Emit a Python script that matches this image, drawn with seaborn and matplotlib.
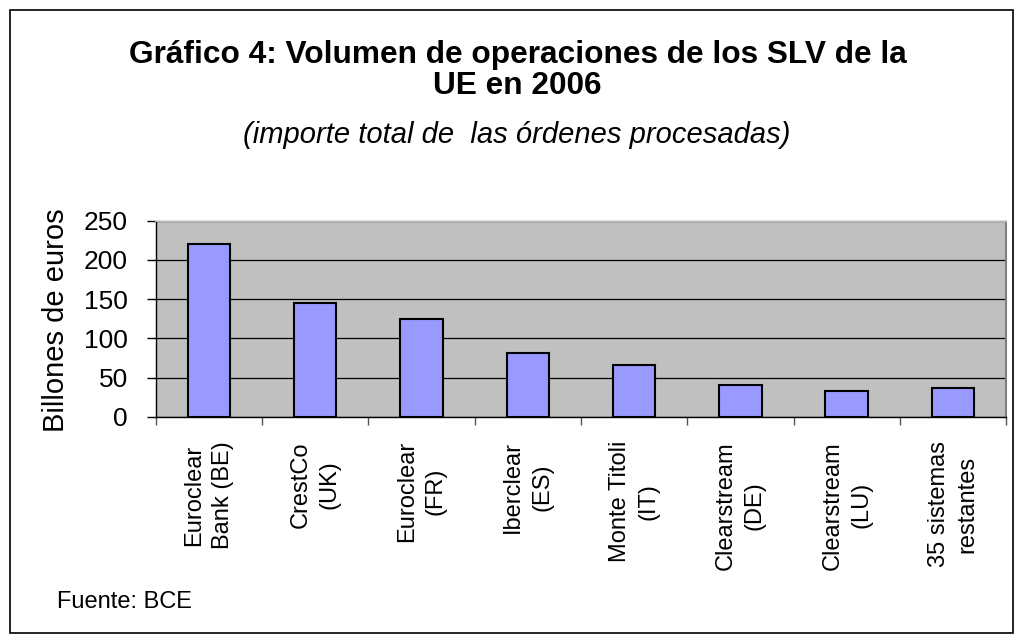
import matplotlib
matplotlib.use('Agg')
import matplotlib.pyplot as plt
import seaborn as sns
import pandas as pd
from matplotlib.patches import Rectangle

# datos (billones de euros)
categorias = ['Euroclear\nBank (BE)', 'CrestCo\n(UK)', 'Euroclear\n(FR)', 'Iberclear\n(ES)',
              'Monte Titoli\n(IT)', 'Clearstream\n(DE)', 'Clearstream\n(LU)', '35 sistemas\nrestantes']
volumen = [220, 145, 125, 81, 66, 41, 33, 36]
y_ticks = [0, 50, 100, 150, 200, 250]

df = pd.DataFrame({'SLV': categorias, 'Volumen': volumen})

sns.set_theme(style='white')
plt.rcParams['font.family'] = ['Liberation Sans', 'DejaVu Sans']
plt.rcParams['text.color'] = 'black'
plt.rcParams['axes.labelcolor'] = 'black'
plt.rcParams['xtick.color'] = 'black'
plt.rcParams['ytick.color'] = 'black'

fig = plt.figure(figsize=(10.14, 6.36), dpi=100)
ax = fig.add_axes([0.1536, 0.3448, 0.8386, 0.3082])

sns.barplot(data=df, x='SLV', y='Volumen', color='#9999FF', edgecolor='black',
            linewidth=1.5, width=0.4, saturation=1, ax=ax)

ax.set_facecolor('#C0C0C0')
ax.set_ylim(0, 250)
ax.set_xlim(-0.5, len(categorias) - 0.5)
ax.set_yticks(y_ticks)
ax.set_yticklabels([str(v) for v in y_ticks], fontsize=19)
ax.yaxis.grid(True, color='black', linewidth=0.9)
ax.set_axisbelow(True)

# ticks del eje x entre categorias
ax.set_xticks(range(len(categorias)))
ax.set_xticklabels(categorias, rotation=90, fontsize=17, ha='center', va='top',
                   multialignment='center', linespacing=1.4)
ax.set_xticks([i - 0.5 for i in range(len(categorias) + 1)], minor=True)
ax.tick_params(axis='x', which='major', length=0, pad=17.5)
ax.tick_params(axis='x', which='minor', length=6, width=1, color='#555555', direction='out',
               bottom=True)
ax.tick_params(axis='y', length=6.5, width=1, color='black', direction='out', left=True,
               pad=13.4)

ax.set_xlabel('')
ax.set_ylabel('Billones de euros', fontsize=21)
ax.yaxis.set_label_coords(-0.101, 0.49)

for side in ['left', 'bottom']:
    ax.spines[side].set_color('black')
    ax.spines[side].set_linewidth(1)
ax.spines['top'].set_color('#D8D8D8')
ax.spines['right'].set_color('#808080')
ax.spines['right'].set_linewidth(1.5)

fig.text(0.5103, 0.9009, 'Gráfico 4: Volumen de operaciones de los SLV de la',
         ha='center', va='baseline', fontsize=22.75, fontweight='bold')
fig.text(0.5103, 0.8522, 'UE en 2006', ha='center', va='baseline', fontsize=22.75,
         fontweight='bold')
fig.text(0.5094, 0.7755, '(importe total de  las órdenes procesadas)', ha='center',
         va='baseline', fontsize=21, style='italic')
fig.text(0.056, 0.044, 'Fuente: BCE', ha='left', va='baseline', fontsize=17)

# marco del grafico
fig.patches.append(Rectangle((10 / 1014, 3 / 636), 1003 / 1014, 623 / 636,
                             transform=fig.transFigure, fill=False,
                             edgecolor='black', linewidth=1.2, zorder=10))

fig.savefig('out.png', dpi=100, facecolor='white')
